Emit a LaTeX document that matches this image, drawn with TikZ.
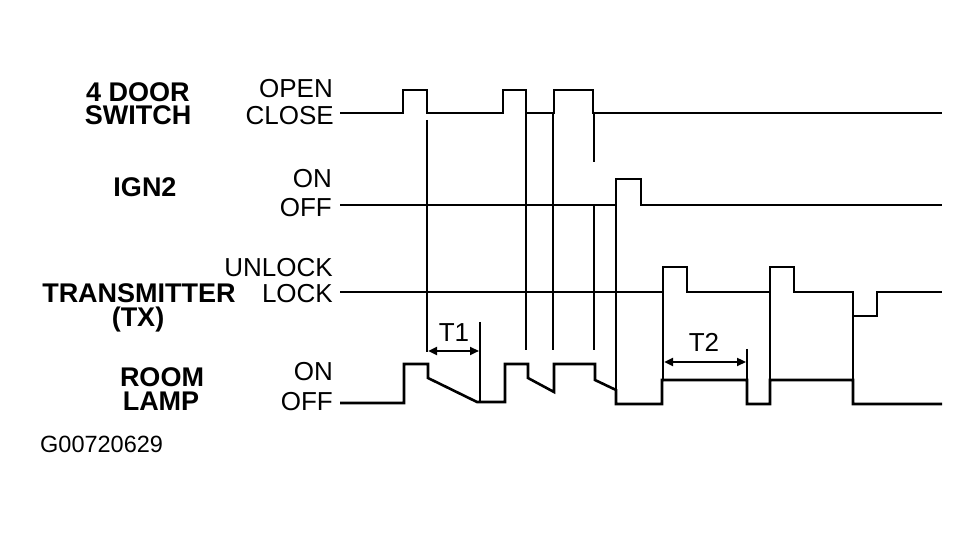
\documentclass[tikz,border=0pt]{standalone}
\usepackage{fontspec}
\setmainfont{Liberation Sans}
\usetikzlibrary{arrows.meta}
\begin{document}
\begin{tikzpicture}[x=1pt,y=-1pt,
  sig/.style={line width=2.6pt,line join=miter,line cap=butt},
  guide/.style={line width=2pt},
  namelbl/.style={inner sep=0pt,anchor=base,font=\fontsize{27}{28}\selectfont\bfseries},
  statelbl/.style={inner sep=0pt,anchor=base east,font=\fontsize{26}{28}\selectfont},
  tlbl/.style={inner sep=0pt,anchor=base,font=\fontsize{26}{28}\selectfont},
  span/.style={line width=2.4pt,{Triangle[length=9pt,width=8pt]}-{Triangle[length=9pt,width=8pt]}}]
\useasboundingbox (0,0) rectangle (980,534);
% names
\node[namelbl] (n1a) at (138,102) {4 DOOR};
\node[namelbl] (n1b) at (138,125) {SWITCH};
\node[namelbl] (n2) at (145,197) {IGN2};
\node[namelbl] (n3a) at (139,303) {TRANSMITTER};
\node[namelbl] (n3b) at (138,327) {(TX)};
\node[namelbl] (n4a) at (162,387) {ROOM};
\node[namelbl] (n4b) at (161,411) {LAMP};
% states
\node[statelbl] (s1h) at (333,98) {OPEN};
\node[statelbl] (s1l) at (334,125) {CLOSE};
\node[statelbl] (s2h) at (332,188) {ON};
\node[statelbl] (s2l) at (332,217) {OFF};
\node[statelbl] (s3h) at (333,277) {UNLOCK};
\node[statelbl] (s3l) at (333,303) {LOCK};
\node[statelbl] (s4h) at (333,381) {ON};
\node[statelbl] (s4l) at (333,411) {OFF};
\node[inner sep=0pt,anchor=base west,font=\fontsize{23.5}{26}\selectfont] (code) at (40,452) {G00720629};
% guide lines
\draw[guide] (427,120) -- (427,352);
\draw[guide] (526,113) -- (526,350);
\draw[guide] (553,113) -- (553,350);
\draw[guide] (594,113) -- (594,162);
\draw[guide] (594,205) -- (594,350);
\draw[guide] (616,205) -- (616,392);
\draw[guide] (480,322) -- (480,403);
\draw[guide] (663,292) -- (663,380);
\draw[guide] (770,292) -- (770,380);
\draw[guide] (853,316) -- (853,403);
\draw[guide] (747,349) -- (747,380);
% door switch
\draw[sig] (340,113) -- (403,113) -- (403,90) -- (427,90) -- (427,113) -- (503,113) -- (503,90) -- (526,90) -- (526,113) -- (554,113) -- (554,90) -- (593,90) -- (593,113) -- (942,113);
% IGN2
\draw[sig] (340,205) -- (616,205) -- (616,179) -- (641,179) -- (641,205) -- (942,205);
% transmitter
\draw[sig] (340,292) -- (663,292) -- (663,267) -- (687,267) -- (687,292) -- (770,292) -- (770,267) -- (794,267) -- (794,292) -- (853,292) -- (853,316) -- (877,316) -- (877,292) -- (942,292);
% room lamp
\draw[sig] (340,403) -- (404,403) -- (404,364) -- (428,364) -- (428,378) -- (477,402) -- (505,402) -- (505,364) -- (528,364) -- (528,378) -- (554,392) -- (554,364) -- (595,364) -- (595,380) -- (616,390) -- (616,404) -- (662,404) -- (662,380) -- (747,380) -- (747,404) -- (770,404) -- (770,380) -- (853,380) -- (853,404) -- (942,404);
% spans
\coordinate (t1a) at (428,351);
\coordinate (t1b) at (479,351);
\coordinate (t2a) at (664,362);
\coordinate (t2b) at (746,362);
\draw[span] (t1a) -- (t1b);
\draw[span] (t2a) -- (t2b);
\node[tlbl] (t1) at (454,342) {T1};
\node[tlbl] (t2) at (704,352) {T2};
\end{tikzpicture}
\end{document}
